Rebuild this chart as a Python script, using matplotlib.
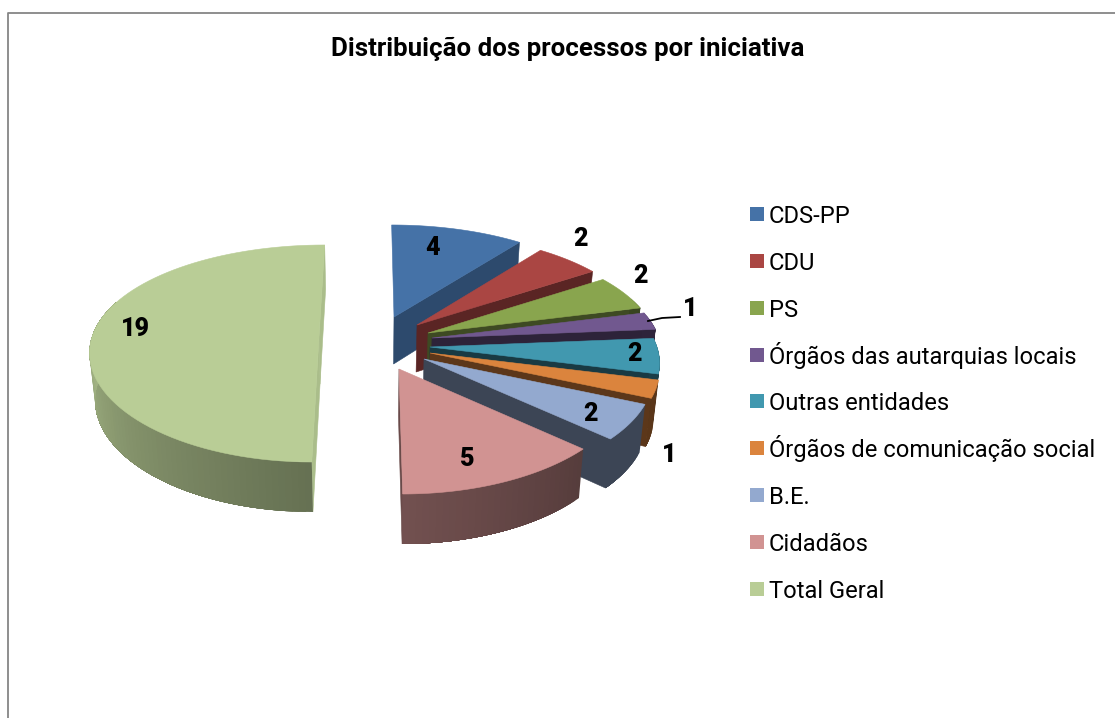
import numpy as np
import matplotlib
matplotlib.use("Agg")
import matplotlib.pyplot as plt
from matplotlib.patches import Polygon, Rectangle

plt.rcParams['font.family'] = ['Roboto', 'DejaVu Sans']

title = "Distribuição dos processos por iniciativa"
categories = ["CDS-PP", "CDU", "PS", "Órgãos das autarquias locais", "Outras entidades",
              "Órgãos de comunicação social", "B.E.", "Cidadãos", "Total Geral"]
values = [4, 2, 2, 1, 2, 1, 2, 5, 19]
colors = ["#4572A7", "#AA4643", "#89A54E", "#71588F", "#4198AF",
          "#DB843D", "#93A9CF", "#D19392", "#B9CD96"]

# exploded slices: apex of every slice in pixels
apex_x = [394, 417, 428, 432, 430, 430, 424, 399, 319]
apex_y = [317, 325, 333, 338, 347, 353, 359, 369, 337]
# darkening of the flat cut walls per slice
cut_shade = [0.65, 0.53, 0.45, 0.40, 0.38, 0.42, 0.41, 0.50, 0.92]
label_x = [433, 581, 640, 690, 635, 669, 591, 467, 135]
label_y = [248, 239, 276, 309, 354, 455, 414, 459, 329]
legend_y = [214, 261, 308, 355, 401, 448, 495, 542, 589]

# perspective
RX, RY = 227, 106
PX, PY = 0.12, 0.152
VANISH_X = 372
DEPTH = 47
BOTTOM_SHRINK = 0.98


def top_point(ax_, ay_, theta):
    u, v = np.sin(theta), np.cos(theta)
    sx = 1 / (1 + PX * v)
    sy = 1 / (1 + PY * v)
    return VANISH_X + (ax_ - VANISH_X + RX * u) * sx, ay_ - RY * v * sy


def low_point(ax_, ay_, theta, radius=True):
    if radius:
        x, y = top_point(ax_, ay_, theta)
        v = np.cos(theta)
    else:
        x, y, v = ax_, ay_, 0
    return VANISH_X + (x - VANISH_X) * BOTTOM_SHRINK, y + DEPTH - 3 * v


def shade(color, f):
    return tuple(c * f for c in matplotlib.colors.to_rgb(color))


def side_factor(deg):
    return np.interp(deg, [90, 132, 180, 225, 270, 360], [0.41, 0.41, 0.55, 0.7, 0.88, 0.88])


def poly(ax, pts, color, z, lw=0.4):
    ax.add_patch(Polygon(pts, closed=True, facecolor=color, edgecolor=color, linewidth=lw, zorder=z))


fig = plt.figure(figsize=(11.15, 7.18), dpi=100)
ax = fig.add_axes([0, 0, 1, 1])
ax.set_xlim(0, 1115)
ax.set_ylim(718, 0)
ax.axis("off")

ax.plot([7.5, 7.5, 1115], [718, 12.5, 12.5], color="#868686", lw=1.3, zorder=1)

total = sum(values)
cum = 0
for i, val in enumerate(values):
    start = cum / total * 2 * np.pi
    cum += val
    end = cum / total * 2 * np.pi
    a_x, a_y = apex_x[i], apex_y[i]
    col = colors[i]
    z = 2 + i
    top_apex = (a_x, a_y)
    low_apex = low_point(a_x, a_y, 0, radius=False)
    wall = shade(col, cut_shade[i])

    # cut walls, the start one only shows on the left half
    if start >= np.pi - 1e-6:
        poly(ax, [top_apex, top_point(a_x, a_y, start), low_point(a_x, a_y, start), low_apex], wall, z)
    poly(ax, [top_apex, top_point(a_x, a_y, end), low_point(a_x, a_y, end), low_apex], wall, z)

    # outer wall: each strip runs to the end of the slice so no seams show
    lo = max(start, np.radians(70))
    hi = min(end, np.radians(290))
    if hi > lo:
        n = max(int(np.degrees(hi - lo) / 1.5), 2)
        ths = np.linspace(lo, hi, n + 1)
        for t0 in ths[:-1]:
            f = side_factor(np.degrees(t0))
            rest = np.linspace(t0, hi, 40)
            up = [top_point(a_x, a_y, t) for t in rest]
            dn = [low_point(a_x, a_y, t) for t in rest[::-1]]
            poly(ax, up + dn, shade(col, f), z, lw=0)

    # top face
    arc = [top_point(a_x, a_y, t) for t in np.linspace(start, end, 80)]
    poly(ax, [top_apex] + arc, col, z)

for i, val in enumerate(values):
    ax.text(label_x[i], label_y[i], str(val), ha="center", va="center",
            fontsize=18, fontweight="black", color="black", zorder=20)

# leader line for the small purple slice
ax.plot([648, 662, 680], [321, 318, 317], color="black", lw=1.3, zorder=20)

ax.text(568, 49, title, ha="center", va="center", fontsize=18.6, fontweight="bold", color="black")

for name, c, y in zip(categories, colors, legend_y):
    ax.add_patch(Rectangle((750, y - 7), 14, 14, facecolor=c, edgecolor="none", zorder=3))
    ax.text(769, y + 9, name, ha="left", va="baseline", fontsize=17.15, color="black")

fig.savefig("out.png", dpi=100)
